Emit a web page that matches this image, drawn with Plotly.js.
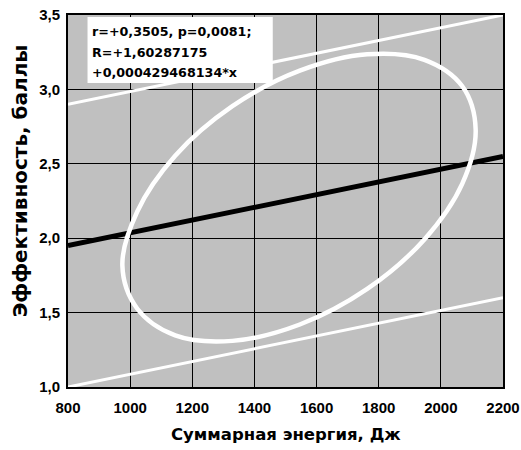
<!DOCTYPE html>
<html>
<head>
<meta charset="utf-8">
<script src="https://cdn.plot.ly/plotly-3.0.1.min.js"></script>
<style>html,body{margin:0;padding:0;background:#fff;}#chart{width:521px;height:450px;}</style>
</head>
<body>
<div id="chart"></div>
<script>
// Regression line and interval lines (endpoints)
var lineX = [800, 2200];
var regY = [1.95, 2.55];
var upperY = [2.90, 3.50];
var lowerY = [1.00, 1.60];

// Ellipse outline points (closed loop)
var ellX = [2112, 2069, 1947, 1763, 1546, 1329, 1145, 1023, 975, 1023, 1145, 1329, 1546, 1763, 1947, 2069, 2112];
var ellY = [2.729, 2.367, 1.992, 1.659, 1.420, 1.310, 1.347, 1.526, 1.817, 2.179, 2.554, 2.887, 3.126, 3.236, 3.199, 3.021, 2.729];

var xTicks = [800, 1000, 1200, 1400, 1600, 1800, 2000, 2200];
var yTicks = [1.0, 1.5, 2.0, 2.5, 3.0, 3.5];
var yTickText = ['1,0', '1,5', '2,0', '2,5', '3,0', '3,5'];

var statLines = ['r=+0,3505, p=0,0081;', 'R=+1,60287175', '+0,000429468134*x'];
var xTitle = 'Суммарная энергия, Дж';
var yTitle = 'Эффективность, баллы';

var FONT = 'Liberation Sans, Arial, Helvetica, sans-serif';
var WIDE = 'DejaVu Sans, Verdana, sans-serif';

var traces = [
  {x: lineX, y: regY, mode: 'lines', line: {color: '#000000', width: 5}, hoverinfo: 'skip'},
  {x: lineX, y: upperY, mode: 'lines', line: {color: '#ffffff', width: 3}, hoverinfo: 'skip'},
  {x: lineX, y: lowerY, mode: 'lines', line: {color: '#ffffff', width: 3}, hoverinfo: 'skip'},
  {x: ellX, y: ellY, mode: 'lines', line: {color: '#ffffff', width: 4.5, shape: 'spline', smoothing: 1}, hoverinfo: 'skip'}
];

var lineYpx = [0.9556, 0.9005, 0.8454];
var annotations = statLines.map(function(t, i){
  return {text: t, xref: 'paper', yref: 'paper', x: 0.050, y: lineYpx[i], xanchor: 'left', yanchor: 'middle',
          showarrow: false, font: {family: WIDE, size: 12.7, color: '#000', weight: 700}};
});
annotations.push({text: xTitle, xref: 'paper', yref: 'paper', x: 0.5, y: -0.129, xanchor: 'center', yanchor: 'middle',
  showarrow: false, font: {family: WIDE, size: 16.5, color: '#000', weight: 700}});
annotations.push({text: yTitle, xref: 'paper', yref: 'paper', x: -0.1116, y: 0.554, xanchor: 'center', yanchor: 'middle',
  textangle: -90, showarrow: false, font: {family: WIDE, size: 20, color: '#000', weight: 700}});

var layout = {
  width: 521, height: 450,
  margin: {l: 68, r: 18, t: 15, b: 63},
  paper_bgcolor: '#ffffff',
  plot_bgcolor: '#c0c0c0',
  showlegend: false,
  xaxis: {
    range: [800, 2200], tickmode: 'array', tickvals: xTicks, ticktext: xTicks.map(String),
    showgrid: true, gridcolor: '#000000', gridwidth: 1, zeroline: false,
    showline: true, linecolor: '#000000', linewidth: 2, mirror: true,
    ticks: '', ticklabelstandoff: 6,
    tickfont: {family: FONT, size: 15, color: '#000', weight: 700}
  },
  yaxis: {
    range: [1.0, 3.5], tickmode: 'array', tickvals: yTicks, ticktext: yTickText,
    showgrid: true, gridcolor: '#000000', gridwidth: 1, zeroline: false,
    showline: true, linecolor: '#000000', linewidth: 2, mirror: true,
    ticks: '', ticklabelstandoff: 3,
    tickfont: {family: FONT, size: 15, color: '#000', weight: 700}
  },
  shapes: [
    {type: 'rect', xref: 'paper', yref: 'paper', x0: 0.0449, x1: 0.4707, y0: 0.817, y1: 0.9946,
     fillcolor: '#ffffff', line: {width: 0}, layer: 'above'}
  ],
  annotations: annotations
};

Plotly.newPlot('chart', traces, layout, {displayModeBar: false, staticPlot: true});
</script>
</body>
</html>
